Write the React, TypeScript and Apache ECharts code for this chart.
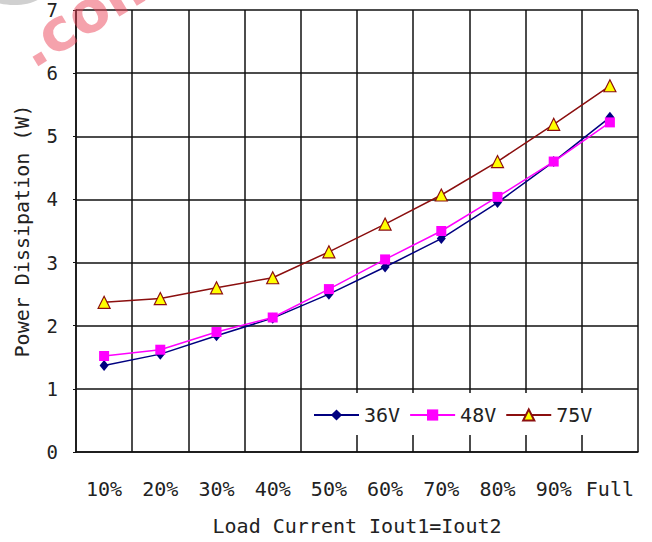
import React, { useEffect, useRef } from "react";
import * as echarts from "echarts";

const categories = ["10%", "20%", "30%", "40%", "50%", "60%", "70%", "80%", "90%", "Full"];
const v36 = [1.37, 1.55, 1.84, 2.12, 2.5, 2.93, 3.38, 3.95, 4.6, 5.3];
const v48 = [1.52, 1.62, 1.9, 2.13, 2.58, 3.05, 3.5, 4.04, 4.6, 5.22];
const v75 = [2.37, 2.43, 2.6, 2.76, 3.17, 3.61, 4.07, 4.6, 5.19, 5.8];
const yTicks = [0, 1, 2, 3, 4, 5, 6, 7];

const FONT = "'DejaVu Sans Mono', 'Liberation Mono', monospace";

export default function App() {
  const ref = useRef<HTMLDivElement>(null);
  useEffect(() => {
    if (!ref.current) return;
    const chart = echarts.init(ref.current, null, { renderer: "svg" });
    chart.setOption({
      animation: false,
      backgroundColor: "#fff",
      textStyle: { fontFamily: FONT, color: "#222" },
      grid: { left: 76, right: 14, top: 10, bottom: 90, containLabel: false },
      legend: {
        left: 303,
        top: 393,
        backgroundColor: "#fff",
        padding: [12, 36, 10, 10],
        itemWidth: 45,
        itemHeight: 14,
        itemGap: 9,
        textStyle: { fontFamily: FONT, fontSize: 20, color: "#222" },
        data: ["36V", "48V", "75V"],
        z: 10,
      },
      xAxis: {
        type: "category",
        data: categories,
        boundaryGap: true,
        name: "Load Current Iout1=Iout2",
        nameLocation: "middle",
        nameGap: 64,
        nameTextStyle: { fontFamily: FONT, fontSize: 20, color: "#222" },
        axisLine: { lineStyle: { color: "#111", width: 1.5 } },
        axisTick: { show: false, interval: 0 },
        axisLabel: { fontFamily: FONT, fontSize: 20, color: "#222", margin: 27, interval: 0 },
        splitLine: { show: true, interval: 0, lineStyle: { color: "#111", width: 1.5 } },
      },
      yAxis: {
        type: "value",
        min: yTicks[0],
        max: yTicks[yTicks.length - 1],
        interval: 1,
        name: "Power Dissipation (W)",
        nameLocation: "middle",
        nameGap: 44,
        nameTextStyle: { fontFamily: FONT, fontSize: 20, color: "#222" },
        axisLine: { show: true, lineStyle: { color: "#111", width: 1.5 } },
        axisTick: { show: true, length: 3, lineStyle: { color: "#111" } },
        axisLabel: { fontFamily: FONT, fontSize: 19, lineHeight: 16, color: "#222", margin: 18 },
        splitLine: { show: true, lineStyle: { color: "#111", width: 1.5 } },
      },
      series: [
        {
          name: "36V",
          type: "line",
          data: v36,
          symbol: "diamond",
          symbolSize: [9, 11],
          lineStyle: { color: "#000080", width: 1.5 },
          itemStyle: { color: "#000080" },
          z: 3,
        },
        {
          name: "48V",
          type: "line",
          data: v48,
          symbol: "rect",
          symbolSize: 10,
          lineStyle: { color: "#ff00ff", width: 1.5 },
          itemStyle: { color: "#ff00ff" },
          z: 4,
        },
        {
          name: "75V",
          type: "line",
          data: v75,
          symbol: "triangle",
          symbolSize: 12,
          lineStyle: { color: "#8b0f0f", width: 1.5 },
          itemStyle: { color: "#ffff00", borderColor: "#8b0f0f", borderWidth: 1.2 },
          z: 5,
        },
      ],
      graphic: [
        {
          type: "ellipse",
          shape: { cx: 14, cy: -8, rx: 30, ry: 13 },
          style: { fill: "#d0d0d0" },
          z: 20,
        },
        {
          type: "text",
          x: 38,
          y: 77,
          rotation: 0.55,
          style: {
            text: ".com",
            fontSize: 58,
            fontWeight: "bold",
            fontFamily: "'DejaVu Sans', sans-serif",
            fill: "rgba(235, 70, 90, 0.5)",
            textVerticalAlign: "bottom",
          },
          z: 20,
        },
      ],
    });
    return () => chart.dispose();
  }, []);
  return <div ref={ref} style={{ width: 652, height: 542, position: "absolute", left: 0, top: 0 }} />;
}
